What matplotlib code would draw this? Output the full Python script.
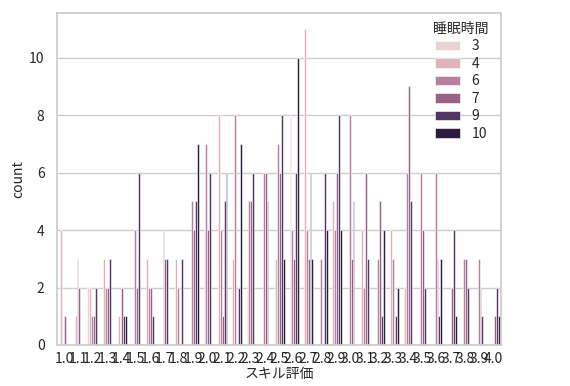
import numpy as np
import matplotlib
matplotlib.use("Agg")
import matplotlib.pyplot as plt
import seaborn as sns

# ---- data ----
skill_levels = ["1.0", "1.1", "1.2", "1.3", "1.4", "1.5", "1.6", "1.7", "1.8", "1.9",
                "2.0", "2.1", "2.2", "2.3", "2.4", "2.5", "2.6", "2.7", "2.8", "2.9",
                "3.0", "3.1", "3.2", "3.3", "3.4", "3.5", "3.6", "3.7", "3.8", "3.9", "4.0"]
sleep_hours = [3, 4, 6, 7, 9, 10]
# counts per skill level, columns follow sleep_hours
count_h3 = [0, 0, 2, 0, 0, 0, 0, 0, 0, 0, 0, 0, 0, 0, 0, 0, 0, 0, 0, 0, 0, 0, 0, 0, 0, 0, 0, 0, 0, 0, 0]
count_h4 = [4, 1, 2, 3, 1, 0, 3, 0, 3, 0, 4, 8, 3, 2, 0, 3, 8, 11, 0, 5, 0, 4, 0, 4, 2, 0, 0, 0, 0, 0, 0]
count_h6 = [0, 3, 1, 2, 0, 4, 2, 4, 2, 5, 7, 4, 8, 5, 6, 7, 4, 4, 3, 4, 8, 2, 3, 3, 6, 6, 6, 0, 3, 3, 0]
count_h7 = [1, 2, 1, 2, 2, 2, 2, 3, 0, 4, 4, 1, 0, 5, 6, 6, 3, 3, 0, 6, 3, 6, 5, 0, 9, 4, 3, 2, 3, 2, 1]
count_h9 = [0, 0, 2, 3, 1, 6, 1, 3, 3, 5, 6, 5, 2, 6, 5, 8, 6, 6, 6, 8, 5, 3, 1, 1, 5, 2, 1, 4, 2, 1, 2]
count_h10 = [0, 0, 0, 0, 1, 0, 0, 0, 0, 7, 0, 6, 7, 0, 0, 3, 10, 3, 4, 4, 0, 0, 4, 2, 0, 0, 3, 1, 0, 0, 1]

counts = [count_h3, count_h4, count_h6, count_h7, count_h9, count_h10]
hue_colors = ["#ead4d3", "#dfb3ba", "#b67f9d", "#976085", "#533763", "#2e1e3b"]

sns.set_theme(style="whitegrid")
plt.rcParams['font.family'] = ['Noto Sans CJK JP', 'DejaVu Sans']

fig = plt.figure(figsize=(5.70, 3.86), dpi=100)
ax = fig.add_axes([57/570, 41/386, 444/570, 332/386])

n = len(sleep_hours)
width = 0.8 / n
x = np.arange(len(skill_levels))
for j, (h, c, col) in enumerate(zip(sleep_hours, counts, hue_colors)):
    c = np.asarray(c, dtype=float)
    offs = -0.4 + (j + 0.5) * width
    mask = c > 0
    ax.bar(x[mask] + offs, c[mask], width=width, color=col,
           edgecolor="white", linewidth=0.4, label=str(h))

ax.set_xticks(x)
ax.set_xticklabels(skill_levels, fontsize=10)
ax.set_xlim(-0.5, len(skill_levels) - 0.5)
ax.set_ylim(0, 11.55)
ax.set_yticks([0, 2, 4, 6, 8, 10])
ax.tick_params(axis='y', labelsize=10, pad=3)
ax.tick_params(axis='x', pad=-1)
ax.xaxis.grid(False)
ax.set_xlabel("スキル評価", fontsize=10, labelpad=1)
ax.set_ylabel("count", fontsize=10, labelpad=3)

leg = ax.legend(title="睡眠時間", loc="upper right", frameon=False, fontsize=10,
                title_fontsize=10, labelspacing=0.25, handlelength=1.8,
                bbox_to_anchor=(0.985, 0.99), borderaxespad=0.0)

fig.savefig("out.png", dpi=100)
